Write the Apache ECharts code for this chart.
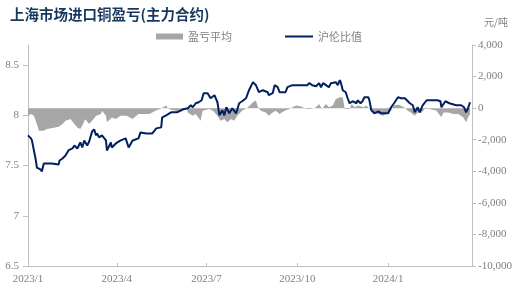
<!DOCTYPE html>
<html>
<head>
<meta charset="utf-8">
<script src="https://cdn.jsdelivr.net/npm/echarts@6/dist/echarts.min.js"></script>
<style>html,body{margin:0;padding:0;background:#fff;}#c{width:521px;height:294px;}</style>
</head>
<body>
<div id="c"></div>
<script>
// ---- data ----
const quarterTicks = ['2023-01-01','2023-04-01','2023-07-01','2023-10-01','2024-01-01'];
const tickLabels = ['2023/1','2023/4','2023/7','2023/10','2024/1'];
const leftTicks = [6.5, 7, 7.5, 8, 8.5];
const axisStart = '2023-01-01';
const axisEnd = '2024-03-26';

const ratioDates = ['2023-01-01','2023-01-04','2023-01-05','2023-01-07','2023-01-09','2023-01-10','2023-01-14','2023-01-15','2023-01-17','2023-01-19','2023-01-25','2023-02-01','2023-02-02','2023-02-05','2023-02-08','2023-02-11','2023-02-15','2023-02-17','2023-02-20','2023-02-23','2023-02-25','2023-02-27','2023-03-02','2023-03-04','2023-03-07','2023-03-09','2023-03-11','2023-03-12','2023-03-14','2023-03-17','2023-03-21','2023-03-22','2023-03-26','2023-03-27','2023-03-31','2023-04-05','2023-04-10','2023-04-13','2023-04-17','2023-04-23','2023-04-25','2023-05-01','2023-05-07','2023-05-11','2023-05-12','2023-05-16','2023-05-17','2023-05-21','2023-05-26','2023-06-01','2023-06-07','2023-06-12','2023-06-15','2023-06-17','2023-06-20','2023-06-23','2023-06-26','2023-06-28','2023-07-02','2023-07-05','2023-07-09','2023-07-12','2023-07-14','2023-07-17','2023-07-19','2023-07-21','2023-07-24','2023-07-27','2023-07-31','2023-08-03','2023-08-06','2023-08-10','2023-08-13','2023-08-17','2023-08-18','2023-08-20','2023-08-23','2023-08-27','2023-09-01','2023-09-02','2023-09-06','2023-09-08','2023-09-11','2023-09-13','2023-09-19','2023-09-21','2023-09-26','2023-10-05','2023-10-11','2023-10-13','2023-10-16','2023-10-20','2023-10-23','2023-10-25','2023-10-27','2023-10-30','2023-11-02','2023-11-04','2023-11-09','2023-11-11','2023-11-13','2023-11-14','2023-11-16','2023-11-19','2023-11-21','2023-11-23','2023-11-26','2023-11-30','2023-12-01','2023-12-04','2023-12-06','2023-12-08','2023-12-12','2023-12-13','2023-12-15','2023-12-18','2023-12-22','2023-12-25','2024-01-01','2024-01-04','2024-01-07','2024-01-11','2024-01-14','2024-01-18','2024-01-21','2024-01-23','2024-01-26','2024-01-28','2024-01-31','2024-02-02','2024-02-05','2024-02-09','2024-02-20','2024-02-23','2024-02-24','2024-02-28','2024-03-03','2024-03-10','2024-03-15','2024-03-18','2024-03-20','2024-03-22','2024-03-24'];
const ratioValues = [7.80,7.77,7.75,7.65,7.55,7.48,7.46,7.44,7.52,7.51,7.52,7.51,7.55,7.57,7.60,7.65,7.67,7.70,7.67,7.73,7.68,7.75,7.70,7.74,7.84,7.86,7.80,7.82,7.78,7.80,7.75,7.65,7.73,7.68,7.72,7.75,7.77,7.68,7.75,7.77,7.83,7.82,7.82,7.87,7.86,7.88,7.98,8.00,8.03,8.03,8.06,8.07,8.10,8.08,8.12,8.13,8.15,8.22,8.22,8.17,8.20,8.13,8.00,8.05,8.00,8.08,8.02,8.07,8.02,8.12,8.14,8.17,8.25,8.33,8.34,8.30,8.23,8.25,8.23,8.20,8.22,8.30,8.28,8.23,8.23,8.28,8.30,8.30,8.30,8.32,8.30,8.29,8.32,8.28,8.32,8.30,8.28,8.32,8.33,8.30,8.35,8.33,8.25,8.23,8.17,8.12,8.14,8.12,8.15,8.12,8.14,8.18,8.18,8.15,8.05,8.02,8.04,8.02,8.02,8.08,8.12,8.18,8.17,8.17,8.14,8.12,8.10,8.03,8.08,8.03,8.10,8.15,8.15,8.14,8.08,8.14,8.12,8.10,8.10,8.08,8.03,8.07,8.13];

const profitDates = ['2023-01-01','2023-01-04','2023-01-07','2023-01-10','2023-01-12','2023-01-14','2023-01-17','2023-01-19','2023-01-20','2023-01-26','2023-02-01','2023-02-05','2023-02-08','2023-02-13','2023-02-17','2023-02-20','2023-02-23','2023-02-25','2023-02-28','2023-03-04','2023-03-07','2023-03-11','2023-03-16','2023-03-17','2023-03-21','2023-03-22','2023-03-24','2023-03-27','2023-03-31','2023-04-05','2023-04-11','2023-04-13','2023-04-17','2023-04-23','2023-04-27','2023-05-04','2023-05-07','2023-05-10','2023-05-15','2023-05-17','2023-05-21','2023-05-23','2023-05-26','2023-05-31','2023-06-03','2023-06-11','2023-06-12','2023-06-17','2023-06-20','2023-06-22','2023-06-25','2023-06-27','2023-07-04','2023-07-08','2023-07-12','2023-07-15','2023-07-19','2023-07-22','2023-07-26','2023-07-29','2023-08-01','2023-08-06','2023-08-12','2023-08-17','2023-08-20','2023-08-22','2023-08-25','2023-08-30','2023-09-02','2023-09-06','2023-09-09','2023-09-13','2023-09-18','2023-09-23','2023-09-26','2023-09-30','2023-10-05','2023-10-10','2023-10-15','2023-10-20','2023-10-23','2023-10-26','2023-10-30','2023-11-02','2023-11-06','2023-11-09','2023-11-13','2023-11-16','2023-11-18','2023-11-23','2023-11-25','2023-11-28','2023-12-02','2023-12-07','2023-12-10','2023-12-13','2023-12-17','2023-12-22','2023-12-27','2023-12-30','2024-01-04','2024-01-06','2024-01-12','2024-01-17','2024-01-21','2024-01-24','2024-01-28','2024-01-31','2024-02-04','2024-02-07','2024-02-12','2024-02-19','2024-02-24','2024-02-26','2024-03-02','2024-03-07','2024-03-12','2024-03-17','2024-03-20','2024-03-22','2024-03-24'];
const profitValues = [-480,-370,-480,-1000,-1430,-1320,-1430,-1540,-1320,-1250,-1180,-1000,-800,-690,-1000,-1220,-1320,-1100,-700,-1000,-800,-480,-370,-160,-480,-900,-800,-590,-690,-480,-480,-370,-690,-370,-370,-370,-270,-160,-50,0,160,-30,-100,-160,-270,-60,-270,-480,-370,-480,-800,-160,-50,-200,-480,-800,-690,-900,-690,-800,-480,-160,50,370,480,50,-160,-270,-480,-270,-160,-370,-160,-60,50,160,110,-50,-50,50,270,-50,270,50,160,580,690,690,-50,-50,270,50,160,50,160,-50,-270,-370,-480,-370,-160,160,220,50,-160,-270,-480,-270,-270,-50,-50,-160,-580,-270,-270,-370,-370,-580,-900,-580,-370];

// ---- build the calendar category axis ----
function fmtDate(t) {
  const d = new Date(t);
  const m = d.getUTCMonth() + 1, day = d.getUTCDate();
  return d.getUTCFullYear() + '-' + (m < 10 ? '0' : '') + m + '-' + (day < 10 ? '0' : '') + day;
}
const categories = [];
for (let t = Date.parse(axisStart + 'T00:00:00Z'); t <= Date.parse(axisEnd + 'T00:00:00Z'); t += 86400000) {
  categories.push(fmtDate(t));
}
function toSeries(dates, values) {
  const map = {};
  dates.forEach((d, i) => { map[d] = values[i]; });
  return categories.map(c => (c in map ? map[c] : null));
}
const isQuarter = (idx, val) => quarterTicks.indexOf(val) >= 0;

const gray = '#808080';
const axisColor = '#bfbfbf';
const serif = '"Liberation Serif", "DejaVu Serif", serif';
const cjk = '"Noto Sans CJK SC"';
const legendText = { fontFamily: cjk, fontSize: 11, color: gray };

const chart = echarts.init(document.getElementById('c'), null, { renderer: 'canvas' });
chart.setOption({
  animation: false,
  backgroundColor: '#ffffff',
  title: [
    { text: '上海市场进口铜盈亏(主力合约)', left: 5, top: 2,
      textStyle: { fontFamily: cjk, fontSize: 14.5, fontWeight: 'bold', color: '#17375e' } },
    { text: '元/吨', left: 479, top: 12,
      textStyle: { fontFamily: cjk, fontSize: 10, fontWeight: 'normal', color: gray } }
  ],
  legend: [
    { left: 151, top: 26, itemWidth: 27, itemHeight: 6, textStyle: legendText,
      data: [{ name: '盈亏平均', icon: 'rect' }] },
    { left: 280, top: 26, itemWidth: 28, itemHeight: 2, textStyle: legendText,
      data: [{ name: '沪伦比值', icon: 'rect' }] }
  ],
  grid: { left: 28, right: 49, top: 45, bottom: 28 },
  xAxis: {
    type: 'category', data: categories, boundaryGap: false,
    axisLine: { onZero: false, lineStyle: { color: axisColor } },
    axisTick: { interval: isQuarter, inside: true, length: 3, lineStyle: { color: axisColor } },
    axisLabel: { interval: isQuarter, margin: 8, color: gray, fontFamily: serif, fontSize: 11,
      formatter: v => tickLabels[quarterTicks.indexOf(v)] },
    splitLine: { show: false }
  },
  yAxis: [
    { type: 'value', min: 6.5, max: 8.7, interval: 0.5,
      axisLine: { show: true, lineStyle: { color: axisColor } },
      axisTick: { show: true, length: 5, lineStyle: { color: axisColor }, customValues: leftTicks },
      axisLabel: { color: gray, fontFamily: serif, fontSize: 11, margin: 9,
        customValues: leftTicks, formatter: v => String(v) },
      splitLine: { show: false } },
    { type: 'value', min: -10000, max: 4000, interval: 2000, position: 'right',
      axisLine: { show: true, lineStyle: { color: axisColor } },
      axisTick: { show: true, length: 4, lineStyle: { color: axisColor } },
      axisLabel: { color: gray, fontFamily: serif, fontSize: 11, margin: 6,
        formatter: v => Number(v).toLocaleString('en-US') },
      splitLine: { show: false } }
  ],
  series: [
    { name: '盈亏平均', type: 'line', yAxisIndex: 1, data: toSeries(profitDates, profitValues),
      connectNulls: true, symbol: 'none', itemStyle: { color: '#a6a6a6' },
      lineStyle: { width: 0, color: '#a6a6a6' }, areaStyle: { color: '#a6a6a6', opacity: 1, origin: 'auto' } },
    { name: '沪伦比值', type: 'line', yAxisIndex: 0, data: toSeries(ratioDates, ratioValues),
      connectNulls: true, symbol: 'none', itemStyle: { color: '#002060' },
      lineStyle: { width: 2, color: '#002060' } }
  ]
});
</script>
</body>
</html>
